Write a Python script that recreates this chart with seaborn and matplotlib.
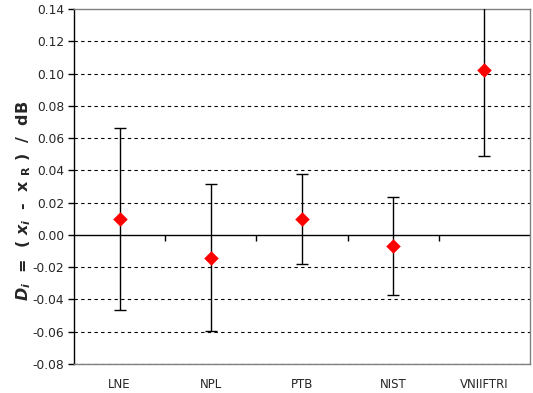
import matplotlib
matplotlib.use("Agg")
import matplotlib.pyplot as plt
import seaborn as sns
import pandas as pd
import numpy as np

labs = ["LNE", "NPL", "PTB", "NIST", "VNIIFTRI"]
vals = [0.010, -0.014, 0.010, -0.007, 0.102]
unc = [0.0565, 0.0455, 0.028, 0.0305, 0.053]
yticks = [-0.08, -0.06, -0.04, -0.02, 0.00, 0.02, 0.04, 0.06, 0.08, 0.10, 0.12, 0.14]

sns.set_theme(style="white")
plt.rcParams['font.family'] = ['DejaVu Sans']
plt.rcParams['mathtext.fontset'] = 'custom'
plt.rcParams['mathtext.it'] = 'DejaVu Sans:italic:bold'
plt.rcParams['mathtext.rm'] = 'DejaVu Sans:bold'
plt.rcParams['mathtext.bf'] = 'DejaVu Sans:bold'

df = pd.DataFrame({"lab": labs, "D": vals, "U": unc})

fig = plt.figure(figsize=(5.33, 3.93), dpi=100)
ax = fig.add_axes([74/533, 1 - 364/393, 456/533, 355/393])

x = np.arange(len(labs))
ax.errorbar(x, df["D"], yerr=df["U"], fmt="none", ecolor="black", elinewidth=1,
            capsize=4, capthick=1, zorder=3)
sns.scatterplot(data=df, x="lab", y="D", marker="D", color="red", s=55,
                edgecolor="red", linewidth=0, ax=ax, zorder=4)

ax.set_xlim(-0.5, len(labs) - 0.5)
ax.set_ylim(-0.08, 0.14)
ax.set_yticks(yticks)
ax.set_yticklabels([f"{t:.2f}" for t in yticks], fontsize=8.8)
ax.set_xticks(x)
ax.set_xticklabels(labs, fontsize=8.5)
ax.tick_params(axis="x", length=0, pad=10)
ax.tick_params(axis="y", direction="out", length=4, width=1, color="black", left=True, pad=3)

for t in yticks:
    if abs(t) > 1e-9 and t < 0.14:
        ax.axhline(t, color="black", linestyle=(0, (3, 3)), linewidth=0.8, zorder=1)
ax.axhline(0, color="black", linewidth=1, zorder=2)

sec = ax.secondary_xaxis(0, transform=ax.transData)
sec.set_xticks(x[:-1] + 0.5)
sec.set_xticklabels([])
sec.tick_params(axis="x", direction="out", length=4, width=1, color="black")
sec.spines["bottom"].set_visible(False)

for s in ["top", "right", "bottom"]:
    ax.spines[s].set_color("#808080")
    ax.spines[s].set_linewidth(1)
ax.spines["left"].set_color("black")
ax.spines["left"].set_linewidth(1)

ax.set_xlabel("")
ax.set_ylabel(r"$D_i$  =  ( $x_i$  -  x $_\mathrm{R}$ )  /  dB", fontsize=11.5,
              fontweight="bold")
ax.yaxis.set_label_coords(-0.09, 0.46)

fig.savefig("out.png", dpi=100)
